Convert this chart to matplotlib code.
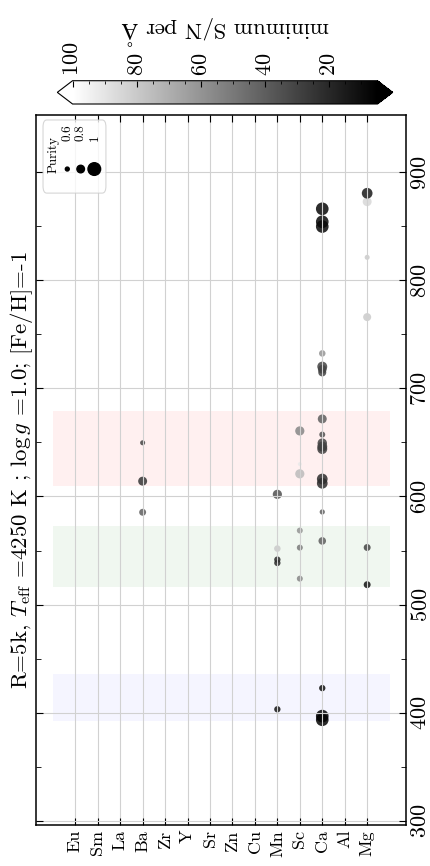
import numpy as np
import matplotlib as mpl
import matplotlib.pyplot as plt
from matplotlib.patches import FancyBboxPatch

plt.rcParams['font.family'] = 'serif'
plt.rcParams['font.serif'] = ['cmr10']
plt.rcParams['mathtext.fontset'] = 'cm'
plt.rcParams['axes.formatter.use_mathtext'] = True

# element rows (left to right in this rotated layout)
elements = ['Eu', 'Sm', 'La', 'Ba', 'Zr', 'Y', 'Sr', 'Zn', 'Cu', 'Mn', 'Sc', 'Ca', 'Al', 'Mg']

# lines: element, wavelength [nm], min S/N per A, purity
line_elem = ['Ca', 'Ca', 'Mn', 'Ca', 'Mg', 'Sc', 'Mn', 'Mn', 'Mn', 'Sc',
             'Mg', 'Ca', 'Sc', 'Ba', 'Ca', 'Mn', 'Ca', 'Ba', 'Ca', 'Sc',
             'Sc', 'Ca', 'Ca', 'Ca', 'Ba', 'Ca', 'Sc', 'Ca', 'Ca', 'Ca',
             'Ca', 'Ca', 'Mg', 'Mg', 'Ca', 'Ca', 'Ca', 'Mg', 'Mg']
line_wave = [393.4, 396.8, 403.1, 422.7, 518.4, 524.0, 538.5, 541.6, 551.8, 552.7,
             552.8, 558.9, 568.5, 585.4, 585.7, 602.0, 612.2, 614.2, 616.2, 621.0,
             630.0, 643.9, 646.2, 649.4, 649.7, 657.3, 660.7, 671.8, 714.8, 717.7,
             720.2, 732.4, 766.0, 821.3, 849.8, 854.2, 866.2, 872.8, 880.6]
line_snr = [6, 6, 12, 10, 12, 55, 20, 20, 80, 50,
            30, 40, 60, 40, 40, 35, 22, 25, 22, 75,
            92, 28, 28, 30, 30, 35, 55, 40, 30, 30,
            30, 60, 80, 80, 8, 8, 8, 85, 15]
line_purity = [1.0, 1.0, 0.74, 0.74, 0.77, 0.72, 0.74, 0.74, 0.75, 0.72,
               0.77, 0.80, 0.72, 0.77, 0.68, 0.87, 0.93, 0.86, 0.93, 0.87,
               0.60, 0.90, 0.90, 0.88, 0.67, 0.72, 0.87, 0.86, 0.82, 0.85,
               0.90, 0.75, 0.82, 0.67, 1.0, 1.0, 1.0, 0.86, 0.93]

# spectrograph windows [nm]
windows = [(392.6, 435.5), (516.0, 573.0), (610.0, 679.0)]
window_colors = ['b', 'g', 'r']
window_alpha = [0.04, 0.06, 0.06]

legend_purity = [0.6, 0.8, 1.0]
title = r'R=5k, $T_{\rm eff}$ =4250 K ; $\log g$ =1.0; [Fe/H]=-1'


def purity_size(p):
    return 83 * np.asarray(p) ** 4.6


fig = plt.figure(figsize=(4.30, 8.66), dpi=100)
ax = fig.add_axes([0.0837, 0.0473, 0.8605, 0.8199])

for (lo, hi), c, a in zip(windows, window_colors, window_alpha):
    ax.fill_between([-1, len(elements)], lo, hi, color=c, alpha=a, lw=0)

norm = mpl.colors.Normalize(vmin=5, vmax=100)
xpos = [elements.index(e) for e in line_elem]
ax.scatter(xpos, line_wave, s=purity_size(line_purity), c=line_snr,
           cmap='gray', norm=norm, alpha=0.85, linewidths=0)

ax.set_xticks(range(len(elements)))
ax.set_xticklabels(elements, rotation=90, fontsize=13)
ax.set_yticks(np.arange(300, 901, 100))
ax.set_yticks(np.arange(350, 900, 100), minor=True)
ax.set_xlim(-1.75, 14.73)
ax.set_ylim(296, 953)
ax.grid(True, which='major', color='0.82', lw=0.8)
ax.tick_params(which='both', direction='in', top=True, right=True,
               labelleft=False, labelright=True)
ax.tick_params(axis='y', labelsize=16, labelrotation=90)
ax.tick_params(which='major', length=5)
ax.tick_params(which='minor', length=3.4)
for lab in ax.get_yticklabels():
    lab.set_va('center')
for s in ax.spines.values():
    s.set_linewidth(1.1)

fig.text(0.049, 0.457, title, rotation=90, ha='center', va='center', fontsize=16.5)

# purity legend (drawn by hand because the layout is rotated)
box = FancyBboxPatch((0.019, 0.890), 0.170, 0.103,
                     boxstyle='round,pad=0,rounding_size=0.01',
                     transform=ax.transAxes, fc='white', ec='0.8', lw=0.8,
                     alpha=0.8, zorder=3)
ax.add_patch(box)
leg_x = [0.0846, 0.1208, 0.1576]
ax.scatter(leg_x, [0.9239] * 3, s=purity_size(legend_purity), c='k',
           transform=ax.transAxes, zorder=4, clip_on=False)
for x, p in zip(leg_x, legend_purity):
    ax.text(x, 0.9634, f'{p:g}', rotation=90, ha='center', va='bottom',
            fontsize=9.5, transform=ax.transAxes, zorder=4)
ax.text(0.0468, 0.9437, 'Purity', rotation=90, ha='center', va='center',
        fontsize=9.5, transform=ax.transAxes, zorder=4)

# colorbar on top
cax = fig.add_axes([0.1333, 0.8799, 0.78, 0.0269])
sm = mpl.cm.ScalarMappable(norm=norm, cmap='gray')
cb = fig.colorbar(sm, cax=cax, orientation='horizontal', extend='both', extendfrac=0.05)
cax.invert_xaxis()
cb.set_ticks([20, 40, 60, 80, 100])
cax.xaxis.set_minor_locator(mpl.ticker.MultipleLocator(5))
cax.xaxis.set_ticks_position('top')
cax.xaxis.set_label_position('top')
cax.tick_params(which='both', direction='in', labelsize=16, labelrotation=90)
cax.tick_params(which='major', length=4.3)
cax.tick_params(which='minor', length=2.4)
cb.set_label(r'minimum S/N per $\rm\AA$', fontsize=16.5, rotation=180, labelpad=2)

fig.savefig('out.png', dpi=100)
